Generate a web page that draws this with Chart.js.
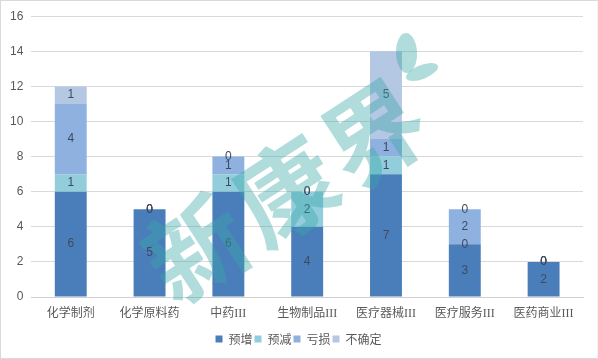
<!DOCTYPE html>
<html>
<head>
<meta charset="utf-8">
<script src="https://cdn.jsdelivr.net/npm/chart.js@4/dist/chart.umd.min.js"></script>
<style>
	html, body { margin: 0; padding: 0; background: #fff; overflow: hidden; }
	#wrap { position: relative; width: 598px; height: 359px; box-sizing: border-box; border: 1px solid #d9d9d9; border-right-color: #f4f4f4; }
	#mark { position: absolute; left: 284px; top: 184px; font: bold 100px/1 "Noto Sans CJK SC"; letter-spacing: 6px; color: rgba(57, 167, 167, 0.4); transform: translate(-50%, -50%) rotate(-33deg); white-space: nowrap; pointer-events: none; }
	.leaf { position: absolute; background: rgba(57, 167, 167, 0.4); border-radius: 50%; }
</style>
</head>
<body>
<div id="wrap">
	<canvas id="chart" width="596" height="357"></canvas>
	<div id="mark">新康界</div>
	<div class="leaf" style="left:395px;top:32px;width:21px;height:40px;transform:rotate(-2deg)"></div>
	<div class="leaf" style="left:404px;top:64px;width:34px;height:14px;transform:rotate(-22deg)"></div>
</div>
<script>
var categories = ["化学制剂", "化学原料药", "中药III", "生物制品III", "医疗器械III", "医疗服务III", "医药商业III"];
var seriesNames = ["预增", "预减", "亏损", "不确定"];
var seriesColors = ["#4a7ebb", "#92cddc", "#8eb1e0", "#b4c7e3"];
var yuZeng = [6, 5, 6, 4, 7, 3, 2];
var yuJian = [1, 0, 1, 2, 1, 0, 0];
var kuiSun = [4, 0, 1, 0, 1, 2, 0];
var buQueDing = [1, 0, 0, 0, 5, 0, 0];
var seriesValues = [yuZeng, yuJian, kuiSun, buQueDing];

// value labels in the middle of each stack segment, zeros included
var segmentLabels = {
	id: "segmentLabels",
	afterDatasetsDraw: function(chart) {
		var ctx = chart.ctx;
		ctx.save();
		ctx.font = '12px "Liberation Sans", sans-serif';
		ctx.fillStyle = "#404a5c";
		ctx.textAlign = "center";
		ctx.textBaseline = "middle";
		chart.data.datasets.forEach(function(ds, i) {
			chart.getDatasetMeta(i).data.forEach(function(bar, j) {
				ctx.fillText(ds.data[j], bar.x, (bar.y + bar.base) / 2);
			});
		});
		ctx.restore();
	}
};

// legend sits a little right of the canvas centre in the original
var legendShift = {
	id: "legendShift",
	afterLayout: function(chart) {
		chart.legend.left += 12;
	}
};

var datasets = [];
for (var i = 0; i < seriesNames.length; i++) {
	datasets.push({
		label: seriesNames[i],
		data: seriesValues[i],
		backgroundColor: seriesColors[i],
		barPercentage: 0.405,
		categoryPercentage: 1
	});
}

new Chart(document.getElementById("chart").getContext("2d"), {
	type: "bar",
	data: { labels: categories, datasets: datasets },
	plugins: [segmentLabels, legendShift],
	options: {
		responsive: false,
		animation: false,
		layout: { padding: { left: 1, right: 14, top: 8, bottom: 3 } },
		plugins: {
			tooltip: { enabled: false },
			legend: {
				position: "bottom",
				labels: {
					boxWidth: 7,
					boxHeight: 7,
					padding: 2,
					color: "#595959",
					font: { size: 12, family: '"Noto Sans CJK SC"' }
				}
			}
		},
		scales: {
			x: {
				stacked: true,
				grid: { display: false, drawTicks: false },
				border: { color: "#d0d0d0" },
				afterFit: function(scale) { scale.height = 34; },
				ticks: { color: "#595959", padding: 10, maxRotation: 0, autoSkip: false, font: { size: 12, family: '"Liberation Serif", "Noto Sans CJK SC"' } }
			},
			y: {
				stacked: true,
				min: 0,
				max: 16,
				grid: { color: "#d9d9d9", drawTicks: false },
				border: { display: false },
				ticks: { stepSize: 2, color: "#595959", padding: 8, font: { size: 12, family: '"Liberation Sans", sans-serif' } }
			}
		}
	}
});
</script>
</body>
</html>
